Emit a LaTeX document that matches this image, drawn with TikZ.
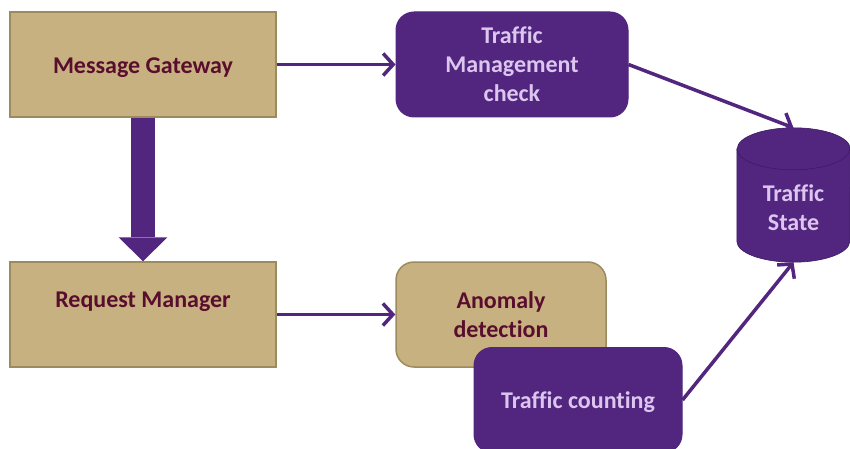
\documentclass[tikz,border=0pt]{standalone}
\usepackage{fontspec}
\setmainfont{Carlito}[Ligatures=NoCommon]
\usetikzlibrary{arrows.meta}

\definecolor{tanfill}{HTML}{C8B180}
\definecolor{tanedge}{HTML}{9C8B5E}
\definecolor{darkwine}{HTML}{5A0E2E}
\definecolor{flowpurple}{HTML}{52267F}
\definecolor{rimpurple}{HTML}{3C1A62}
\definecolor{lavender}{HTML}{DCC6EF}

\begin{document}
\begin{tikzpicture}
  [
    x                    = 1pt,
    y                    = -1pt,
    every node/.style    = {font=\bfseries\fontsize{24}{29}\selectfont, align=center, inner sep=0pt},
    oneline/.style       = {text height=17.5pt, text depth=0pt},
    tanbox/.style        = {draw=tanedge, line width=1.5pt, fill=tanfill, text=darkwine,
                            minimum width=266pt, minimum height=105pt},
    tanround/.style      = {tanbox, rounded corners=18pt, minimum width=210pt},
    purplebox/.style     = {draw=flowpurple, line width=1pt, fill=flowpurple, text=lavender,
                            rounded corners=18pt, minimum height=105pt},
    flow/.style          = {draw=flowpurple, line width=3.5pt, -{Straight Barb[length=10pt, width=22pt]}},
    bigflow/.style       = {draw=flowpurple, line width=24pt,
                            -{Triangle[length=24pt, width=49pt, line width=0pt]}}
  ]
  \useasboundingbox (0,0) rectangle (850,449);

  % left column
  \node[tanbox, oneline] (gateway) at (143,64.5) {Message Gateway};
  \node[tanbox] (reqmgr)  at (143,314.5) {Request Manager\\\mbox{}};

  % middle column
  \node[purplebox, minimum width=232pt] (tmcheck) at (512,64.5) {Traffic\\Management\\check};
  \node[tanround] (anomaly) at (501,314.5) {Anomaly\\detection};
  \node[purplebox, oneline, minimum width=208pt] (counting) at (578,400) {Traffic counting};

  % traffic state store
  \node[minimum width=113pt, minimum height=134pt] (state) at (793.5,195) {};
  \fill[flowpurple, draw=rimpurple, line width=0.6pt]
    ([yshift=-21pt]state.north west) -- ([yshift=21pt]state.south west)
    arc[start angle=180, end angle=0, x radius=56.5, y radius=21]
    -- ([yshift=-21pt]state.north east)
    arc[start angle=0, end angle=-180, x radius=56.5, y radius=21] -- cycle;
  \draw[rimpurple, line width=0.6pt] ([yshift=-21pt]state.north west)
    arc[start angle=180, end angle=0, x radius=56.5, y radius=21];
  \node[text=lavender] (statetext) at (793.5,208) {Traffic\\State};

  % connectors
  \draw[bigflow] (gateway.south) -- (reqmgr.north);
  \draw[flow] (gateway.east) -- (tmcheck.west);
  \draw[flow] (reqmgr.east) -- (anomaly.west);
  \draw[flow] (tmcheck.east) -- (state.north);
  \draw[flow] (counting.east) -- (state.south);
\end{tikzpicture}
\end{document}
